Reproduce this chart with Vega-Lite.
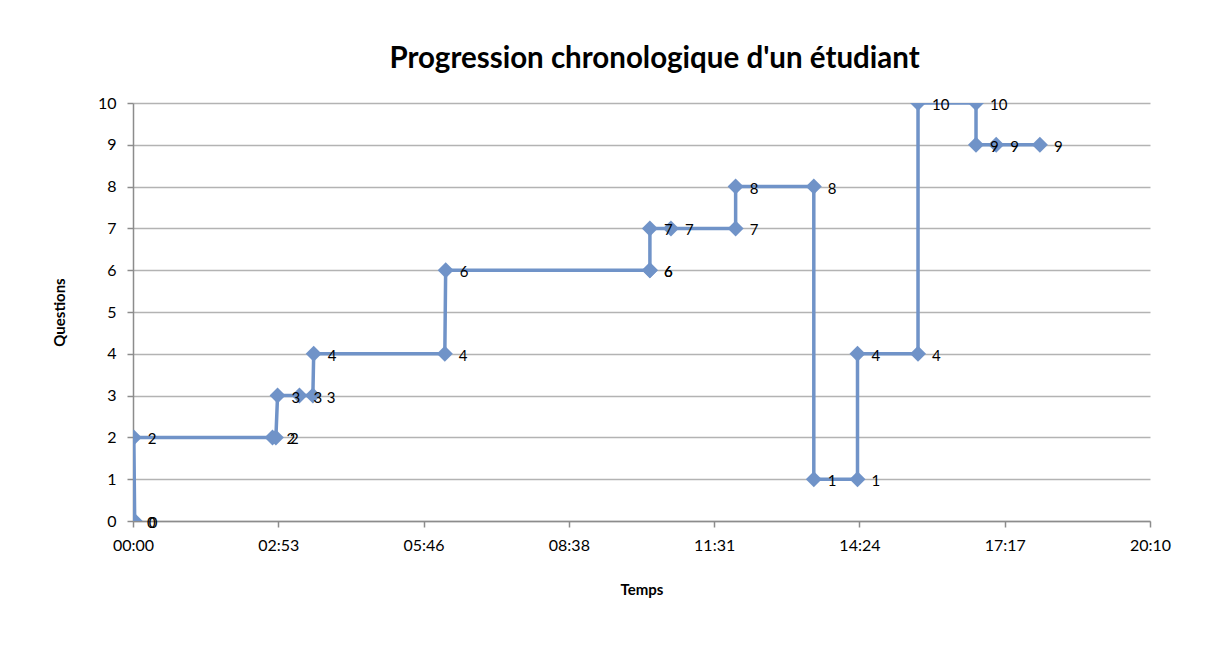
{
  "$schema": "https://vega.github.io/schema/vega-lite/v6.json",
  "width": 1017,
  "height": 418,
  "autosize": "none",
  "padding": {"left": 133, "top": 103, "right": 56, "bottom": 125},
  "background": "white",
  "config": {"view": {"stroke": null}},
  "title": {
    "text": "Progression chronologique d'un étudiant",
    "font": "Lato",
    "fontSize": 29.5,
    "fontWeight": "bold",
    "color": "black",
    "anchor": "middle",
    "offset": 21,
    "dx": 13
  },
  "data": {
    "values": [
      {"i": 1, "t": 0, "q": 0},
      {"i": 2, "t": 2, "q": 0},
      {"i": 3, "t": 1, "q": 2},
      {"i": 4, "t": 166, "q": 2},
      {"i": 5, "t": 170, "q": 2},
      {"i": 6, "t": 172, "q": 3},
      {"i": 7, "t": 198, "q": 3},
      {"i": 8, "t": 214, "q": 3},
      {"i": 9, "t": 215, "q": 4},
      {"i": 10, "t": 371, "q": 4},
      {"i": 11, "t": 372, "q": 6},
      {"i": 12, "t": 615, "q": 6},
      {"i": 13, "t": 615, "q": 6},
      {"i": 14, "t": 615, "q": 7},
      {"i": 15, "t": 640, "q": 7},
      {"i": 16, "t": 717, "q": 7},
      {"i": 17, "t": 717, "q": 8},
      {"i": 18, "t": 810, "q": 8},
      {"i": 19, "t": 810, "q": 1},
      {"i": 20, "t": 862, "q": 1},
      {"i": 21, "t": 862, "q": 4},
      {"i": 22, "t": 934, "q": 4},
      {"i": 23, "t": 934, "q": 10},
      {"i": 24, "t": 1003, "q": 10},
      {"i": 25, "t": 1003, "q": 9},
      {"i": 26, "t": 1027, "q": 9},
      {"i": 27, "t": 1079, "q": 9}
    ]
  },
  "encoding": {
    "x": {
      "field": "t",
      "type": "quantitative",
      "scale": {"domain": [0, 1210], "nice": false, "zero": false},
      "axis": {
        "values": [0, 172.857, 345.714, 518.571, 691.429, 864.286, 1037.143, 1210],
        "labelExpr": "['00:00','02:53','05:46','08:38','11:31','14:24','17:17','20:10'][round(datum.value/172.857)]",
        "labelFlush": false,
        "labelOverlap": false,
        "grid": false,
        "domainColor": "#8c8c8c",
        "domainWidth": 1.5,
        "tickColor": "#8c8c8c",
        "tickWidth": 1.5,
        "tickSize": 6,
        "labelFont": "Lato",
        "labelFontSize": 16,
        "labelColor": "black",
        "labelPadding": 10,
        "title": "Temps",
        "titleFont": "Lato",
        "titleFontSize": 15,
        "titleFontWeight": "bold",
        "titleColor": "black",
        "titlePadding": 29
      }
    },
    "y": {
      "field": "q",
      "type": "quantitative",
      "scale": {"domain": [0, 10], "nice": false},
      "axis": {
        "values": [0, 1, 2, 3, 4, 5, 6, 7, 8, 9, 10],
        "labelOverlap": false,
        "labelFlush": false,
        "grid": true,
        "gridColor": "#b3b3b3",
        "gridWidth": 1.5,
        "domainColor": "#8c8c8c",
        "domainWidth": 1.5,
        "tickColor": "#8c8c8c",
        "tickWidth": 1.5,
        "tickSize": 6,
        "labelFont": "Lato",
        "labelFontSize": 16,
        "labelColor": "black",
        "labelPadding": 11,
        "title": "Questions",
        "titleFont": "Lato",
        "titleFontSize": 15,
        "titleFontWeight": "bold",
        "titleColor": "black",
        "titlePadding": 30
      }
    },
    "order": {"field": "i", "type": "quantitative"}
  },
  "layer": [
    {"mark": {"type": "line", "color": "#7093c8", "strokeWidth": 3.5, "clip": true}},
    {"mark": {"type": "point", "shape": "diamond", "filled": true, "size": 256, "color": "#7093c8", "opacity": 1, "clip": true}},
    {
      "mark": {"type": "text", "align": "left", "baseline": "middle", "dx": 14, "dy": 2, "fontSize": 15, "font": "Lato", "color": "black"},
      "encoding": {"text": {"field": "q", "type": "quantitative"}}
    }
  ]
}
